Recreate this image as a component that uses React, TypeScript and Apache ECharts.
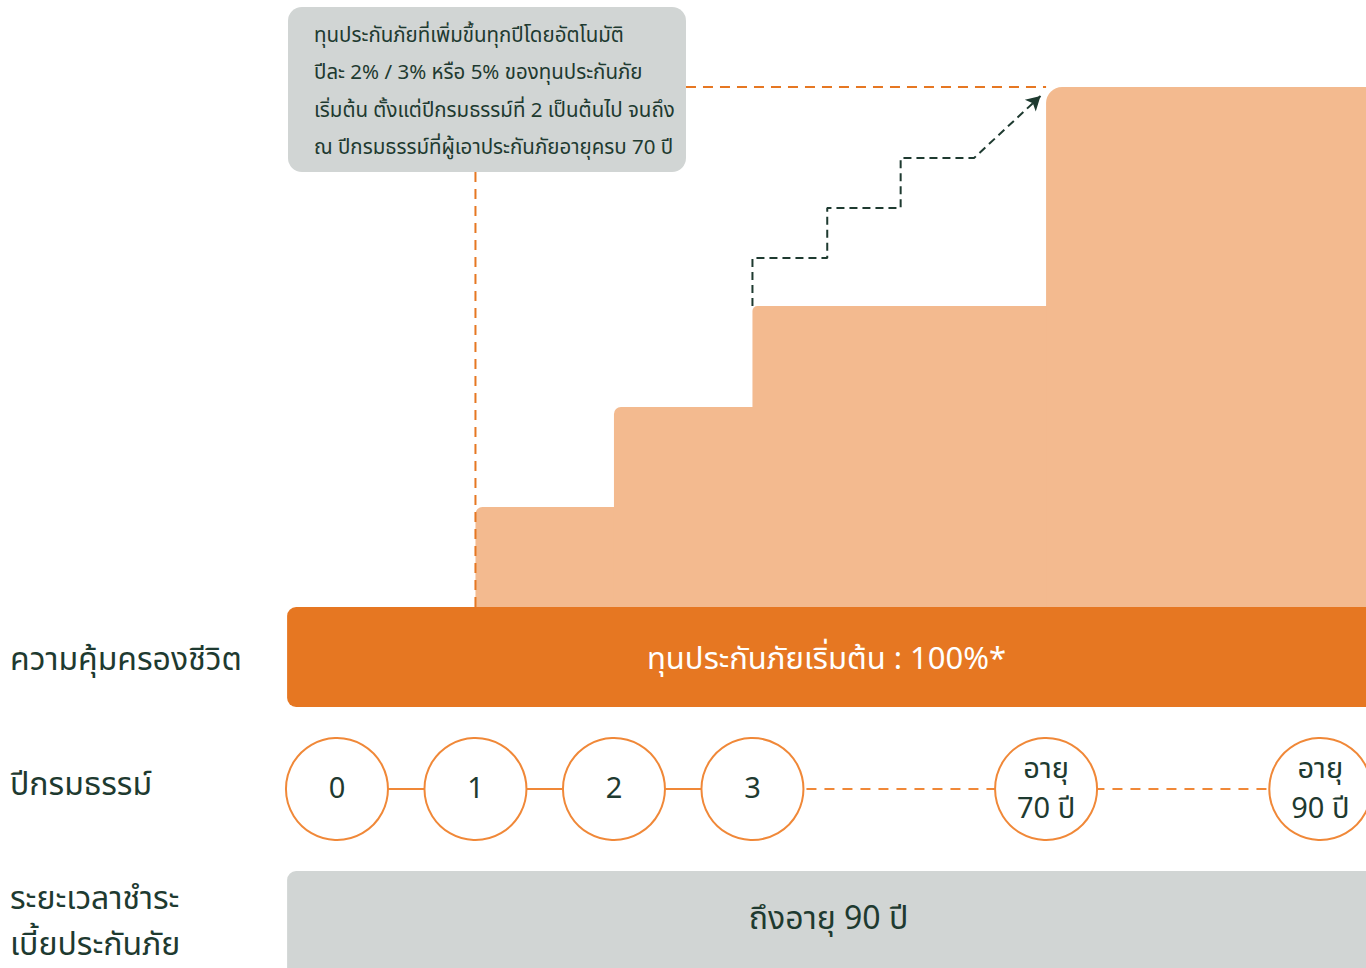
import React, { useEffect, useRef } from "react";
import * as echarts from "echarts";

const FONT = '"Noto Sans Thai", "Noto Sans", "Noto Sans CJK SC", sans-serif';
const DARK = "#1E3A30";
const ORANGE = "#E67722";
const LIGHT = "#F3BA8F";
const RING = "#F08838";
const GREY = "#D1D5D4";

// timeline positions (slot units) and labels
const timelineX = [0, 1, 2, 3, 5.12, 7.1];
const timelineLabels = ["0", "1", "2", "3", "อายุ\n70 ปี", "อายุ\n90 ปี"];

// coverage steps (start slot, top value; base coverage bar = 0..100)
const stepFrom = [1, 2, 3, 5.12];
const stepTop = [200, 300, 401, 620];
const stepRadius = [7, 7, 5, 16];
const baseCoverage = 100;

// dashed growth arrow
const growthX = [3, 3, 3.54, 3.54, 4.07, 4.07, 4.6, 5.08];
const growthY = [401, 449, 449, 499, 499, 549, 549, 611];

// orange guide lines
const guideVX = [1, 1];
const guideVY = [535, 100];
const guideHX = [2.52, 5.12];
const guideHY = [620, 620];

const rowLabels = ["ความคุ้มครองชีวิต", "ปีกรมธรรม์", "ระยะเวลาชำระ\nเบี้ยประกันภัย"];
const noteLines = [
  "ทุนประกันภัยที่เพิ่มขึ้นทุกปีโดยอัตโนมัติ",
  "ปีละ 2% / 3% หรือ 5% ของทุนประกันภัย",
  "เริ่มต้น ตั้งแต่ปีกรมธรรม์ที่ 2 เป็นต้นไป จนถึง",
  "ณ ปีกรมธรรม์ที่ผู้เอาประกันภัยอายุครบ 70 ปี",
];
const baseText = "ทุนประกันภัยเริ่มต้น : 100%*";
const payText = "ถึงอายุ 90 ปี";

const X_MIN = -2.433;
const X_MAX = 7.43;
const Y_MIN = -261;
const Y_MAX = 707;
const BAR_START = -0.36;
const TIMELINE_Y = -82;
const PAY_TOP = -164;
const PAY_BOTTOM = -300;

export default function App() {
  const ref = useRef<HTMLDivElement>(null);
  useEffect(() => {
    if (!ref.current) return;
    const chart = echarts.init(ref.current, undefined, { renderer: "svg" });

    const stepData = stepFrom.map((f, i) => [f, stepTop[i], stepRadius[i]]);

    const option: any = {
      animation: false,
      backgroundColor: "#ffffff",
      grid: { left: 0, right: 0, top: 0, bottom: 0 },
      xAxis: { type: "value", min: X_MIN, max: X_MAX, show: false, splitLine: { show: false } },
      yAxis: { type: "value", min: Y_MIN, max: Y_MAX, show: false, splitLine: { show: false } },
      graphic: [
        {
          type: "rect",
          left: 288,
          top: 7,
          shape: { width: 398, height: 165, r: 14 },
          style: { fill: GREY },
          z: 10,
        },
        ...noteLines.map((t, i) => ({
          type: "text",
          x: 314,
          y: 35 + i * 37.5,
          z: 11,
          style: {
            text: t,
            fill: DARK,
            font: `20.5px ${FONT}`,
            verticalAlign: "middle",
          },
        })),
        {
          type: "text",
          x: 10,
          y: 660,
          style: { text: rowLabels[0], fill: DARK, font: `32px ${FONT}`, verticalAlign: "middle" },
        },
        {
          type: "text",
          x: 10,
          y: 785,
          style: { text: rowLabels[1], fill: DARK, font: `32px ${FONT}`, verticalAlign: "middle" },
        },
        {
          type: "text",
          x: 10,
          y: 922,
          style: {
            text: rowLabels[2],
            fill: DARK,
            font: `32px ${FONT}`,
            lineHeight: 46,
            verticalAlign: "middle",
          },
        },
      ],
      series: [
        {
          type: "custom",
          name: "steps",
          data: stepData,
          z: 1,
          renderItem: (params: any, api: any) => {
            const p0 = api.coord([api.value(0), api.value(1)]);
            const p1 = api.coord([X_MAX, baseCoverage]);
            const r = api.value(2);
            return {
              type: "rect",
              shape: { x: p0[0], y: p0[1], width: p1[0] - p0[0] + 30, height: p1[1] - p0[1] + 2, r: [r, 0, 0, 0] },
              style: { fill: LIGHT },
            };
          },
        },
        {
          type: "line",
          name: "guideV",
          data: guideVX.map((x, i) => [x, guideVY[i]]),
          symbol: "none",
          z: 2,
          lineStyle: { color: ORANGE, width: 2, type: [10, 7] },
        },
        {
          type: "line",
          name: "guideH",
          data: guideHX.map((x, i) => [x, guideHY[i]]),
          symbol: "none",
          z: 2,
          lineStyle: { color: ORANGE, width: 2, type: [10, 7] },
        },
        {
          type: "line",
          name: "growth",
          showSymbol: true,
          symbol: "none",
          z: 4,
          data: growthX.map((x, i) =>
            i === growthX.length - 1
              ? { value: [x, growthY[i]], symbol: "arrow", symbolSize: [12, 14], symbolRotate: -47, itemStyle: { color: DARK } }
              : { value: [x, growthY[i]] }
          ),
          lineStyle: { color: DARK, width: 2, type: [8, 5] },
        },
        {
          type: "custom",
          name: "base",
          data: [[BAR_START, 0, baseCoverage]],
          z: 3,
          renderItem: (params: any, api: any) => {
            const p0 = api.coord([api.value(0), api.value(2)]);
            const p1 = api.coord([api.value(0), api.value(1)]);
            const w = api.getWidth();
            return {
              type: "group",
              children: [
                {
                  type: "rect",
                  shape: { x: p0[0], y: p0[1], width: w - p0[0] + 30, height: p1[1] - p0[1], r: [9, 0, 0, 9] },
                  style: { fill: ORANGE },
                },
                {
                  type: "text",
                  x: (p0[0] + w) / 2,
                  y: (p0[1] + p1[1]) / 2 + 2,
                  style: {
                    text: baseText,
                    fill: "#ffffff",
                    font: `31px ${FONT}`,
                    align: "center",
                    verticalAlign: "middle",
                  },
                },
              ],
            };
          },
        },
        {
          type: "custom",
          name: "pay",
          data: [[BAR_START, PAY_BOTTOM, PAY_TOP]],
          z: 3,
          renderItem: (params: any, api: any) => {
            const p0 = api.coord([api.value(0), api.value(2)]);
            const p1 = api.coord([api.value(0), api.value(1)]);
            const w = api.getWidth();
            const h = api.getHeight();
            return {
              type: "group",
              children: [
                {
                  type: "rect",
                  shape: { x: p0[0], y: p0[1], width: w - p0[0] + 30, height: p1[1] - p0[1], r: [9, 0, 0, 9] },
                  style: { fill: GREY },
                },
                {
                  type: "text",
                  x: (p0[0] + w) / 2 + 2,
                  y: (p0[1] + h) / 2 - 1,
                  style: {
                    text: payText,
                    fill: DARK,
                    font: `32px ${FONT}`,
                    align: "center",
                    verticalAlign: "middle",
                  },
                },
              ],
            };
          },
        },
        {
          type: "line",
          name: "timelineSolid",
          data: [
            [timelineX[0], TIMELINE_Y],
            [timelineX[3], TIMELINE_Y],
          ],
          symbol: "none",
          z: 2,
          lineStyle: { color: RING, width: 2 },
        },
        {
          type: "line",
          name: "timelineDashed",
          data: [
            [timelineX[3], TIMELINE_Y],
            [timelineX[5], TIMELINE_Y],
          ],
          symbol: "none",
          z: 2,
          lineStyle: { color: RING, width: 2, type: [10, 8] },
        },
        {
          type: "scatter",
          name: "years",
          z: 5,
          symbol: "circle",
          symbolSize: 102,
          data: timelineX.map((x) => [x, TIMELINE_Y]),
          itemStyle: { color: "#ffffff", borderColor: RING, borderWidth: 2, opacity: 1 },
          label: {
            show: true,
            position: "inside",
            formatter: (p: any) => timelineLabels[p.dataIndex],
            color: DARK,
            fontSize: 29,
            lineHeight: 40,
            fontFamily: FONT,
          },
          emphasis: { disabled: true },
        },
      ],
    };

    chart.setOption(option);
    return () => chart.dispose();
  }, []);

  return (
    <div
      ref={ref}
      style={{
        position: "fixed",
        left: 0,
        top: 0,
        width: 1366,
        height: 968,
        overflow: "hidden",
        background: "#ffffff",
      }}
    />
  );
}
